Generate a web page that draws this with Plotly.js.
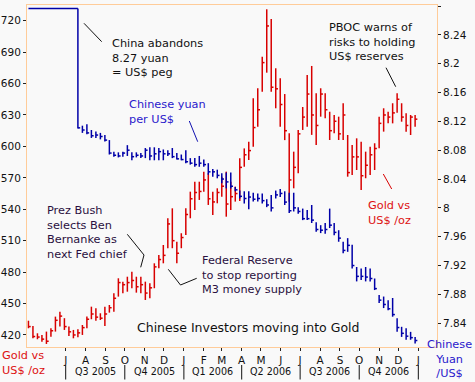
<!DOCTYPE html>
<html><head><meta charset="utf-8">
<script src="https://cdn.plot.ly/plotly-3.0.1.min.js"></script>
<style>html,body{margin:0;padding:0;background:#F9F9F9;}#chart{width:475px;height:382px;}</style>
</head><body><div id="chart"></div>
<script>
// ---- data (weekly bars) ----
const firstWeek = '2005-05-04';
const goldHigh = [433.6,428.6,421.6,420,423.2,426.4,437.5,442.2,436,428,424.8,425.4,429.5,437.5,447,445.5,440.7,447,448.6,459.8,
  474.1,470.9,475.6,480.4,475.6,475.6,470.9,469.3,488.4,496.4,505.9,531.4,540.9,509,517.1,540.9,556.8,566.3,566.3,575.9,
  574.3,556.8,560,571.1,575.9,566.3,561.6,588.6,598.1,604.5,645.9,655.5,685.7,730.9,721.6,674.6,665,650,612.5,595,
  615.7,637.6,668.2,676.8,650.7,655.5,650.7,633.1,630,628.4,641.2,610.9,601.3,607.7,604.5,595,599.7,603,628.4,636.4,
  633.1,641.2,650.7,641.2,631.6,630,630];
const goldLow = [426.4,416.8,415.9,413.6,411.4,418.4,423.2,428,424.8,419,416.8,417.8,420,426.4,435,433.6,434.3,428.6,441.3,442.2,
  456.6,459.8,461.3,464.6,460.4,459.8,453.4,455,464.6,483.7,488.4,502.8,502.8,488.4,502.8,515.4,531.4,539.3,548.9,556.8,
  544.1,534.6,545.7,552,532.9,539.3,547.3,548,580.6,587,599.7,618.8,652.2,670.4,652.2,636.4,618.8,606,547.2,560,
  574.3,615.7,618.8,611,601.3,628.4,626.8,606.1,612.5,606.1,606.1,571.1,572.7,577.5,558.4,569.6,572.7,577.5,598.2,614.1,
  622,622,632.2,623.6,614.1,610.9,618.8];
const goldClose = [428,418.5,418,416,414,424,434,438,428,423,420,422,427,435,440,437,436,440,446,455,
  470,468,470,472,466,468,460,465,485,492,496,526,510,498,513,535,550,556,557,568,
  550,547,556,562,545,552,555,580,592,596,618,635,680,715,656.5,655,640,615,568,580,
  612,628,650,630,620,650,635,615,624,612,630,575,590,590,572,582,592,598,622,630,
  628,632,645,628,620,628,626];

// yuan held at the 8.2765 peg for the first weeks, then weekly bars from week 11
const yuanPeg = [8.2765,8.2765,8.2765,8.2765,8.2765,8.2765,8.2765,8.2765,8.2765,8.2765,8.2765,8.2765];
const yuanFirstBarWeek = 11;
const yuanHigh = [8.2765,8.114,8.116,8.108,8.106,8.104,8.101,8.094,8.078,8.077,8.078,8.087,8.077,8.077,8.076,8.083,8.084,8.084,8.083,8.081,
  8.080,8.083,8.076,8.074,8.080,8.069,8.069,8.072,8.067,8.062,8.054,8.053,8.048,8.049,8.049,8.029,8.024,8.023,8.023,8.021,
  8.020,8.020,8.012,8.018,8.024,8.026,8.023,8.021,8.021,8.001,7.999,7.997,8.004,7.980,7.976,7.979,7.999,7.979,7.969,7.953,
  7.958,7.949,7.918,7.916,7.918,7.916,7.902,7.879,7.877,7.872,7.875,7.847,7.835,7.833,7.828,7.821];
const yuanLow = [8.110,8.104,8.102,8.097,8.097,8.095,8.092,8.074,8.071,8.070,8.071,8.072,8.066,8.070,8.069,8.069,8.066,8.066,8.066,8.066,
  8.072,8.069,8.067,8.066,8.062,8.060,8.057,8.057,8.057,8.046,8.043,8.041,8.034,8.027,8.027,8.023,8.013,8.006,7.998,8.009,
  8.009,8.006,8.001,7.995,8.013,8.015,8.004,7.993,7.995,7.992,7.983,7.983,7.979,7.967,7.965,7.964,7.972,7.962,7.953,7.937,
  7.939,7.916,7.898,7.900,7.898,7.898,7.886,7.868,7.861,7.858,7.849,7.828,7.821,7.817,7.817,7.812];
const yuanClose = [8.111,8.108,8.104,8.100,8.101,8.099,8.094,8.076,8.073,8.072,8.076,8.080,8.071,8.073,8.072,8.080,8.072,8.075,8.078,8.075,
  8.075,8.071,8.068,8.067,8.064,8.062,8.060,8.062,8.060,8.050,8.050,8.045,8.040,8.036,8.030,8.025,8.016,8.013,8.015,8.012,
  8.013,8.010,8.004,8.000,8.018,8.020,8.008,7.996,8.000,7.995,7.985,7.985,7.983,7.970,7.969,7.970,7.976,7.966,7.958,7.941,
  7.948,7.920,7.905,7.905,7.904,7.902,7.888,7.872,7.866,7.860,7.852,7.834,7.826,7.822,7.820,7.816];

const monthTickVals = ['2005-07-01','2005-08-01','2005-09-01','2005-10-01','2005-11-01','2005-12-01','2006-01-01','2006-02-01',
  '2006-03-01','2006-04-01','2006-05-01','2006-06-01','2006-07-01','2006-08-01','2006-09-01','2006-10-01','2006-11-01','2006-12-01','2007-01-01'];
const monthTickText = ['J','A','S','O','N','D','J','F','M','A','M','J','J','A','S','O','N','D','J'];
const quarterStarts = ['2005-07-01','2005-10-01','2006-01-01','2006-04-01','2006-07-01','2006-10-01','2007-01-01'];
const quarterLabels = ['Q3 2005','Q4 2005','Q1 2006','Q2 2006','Q3 2006','Q4 2006'];
const goldTicks = [420,450,480,510,540,570,600,630,660,690,720];
const yuanTicks = [7.84,7.88,7.92,7.96,8,8.04,8.08,8.12,8.16,8.2,8.24,8.28];
const yuanTickText = ['7.84','7.88','7.92','7.96','8','8.04','8.08','8.12','8.16','8.2','8.24','8.28'];

// ---- helpers ----
const DAY = 864e5;
const t0 = Date.parse(firstWeek + 'T00:00:00Z');
function fmt(ms){ return new Date(ms).toISOString().replace('T',' ').slice(0,19); }
function weekMs(i){ return t0 + i*7*DAY; }
function bars(offset, H, L, C){
  const xs=[], ys=[]; const tick = 3.5*DAY;
  for (let i=0;i<H.length;i++){
    const m = weekMs(i+offset);
    xs.push(fmt(m), fmt(m), null); ys.push(H[i], L[i], null);
    xs.push(fmt(m), fmt(m), null); ys.push(C[i], C[i], null);
    xs[xs.length-2] = fmt(m+tick);
  }
  return {xs, ys};
}
const RED = '#D80000', BLUE = '#0000A8';
const g = bars(0, goldHigh, goldLow, goldClose);
const y = bars(yuanFirstBarWeek, yuanHigh, yuanLow, yuanClose);
const pegX = yuanPeg.map((v,i)=>fmt(weekMs(i)));

const traces = [
  {x:g.xs, y:g.ys, type:'scatter', mode:'lines', line:{color:RED, width:1.5}, hoverinfo:'skip', yaxis:'y'},
  {x:pegX, y:yuanPeg, type:'scatter', mode:'lines', line:{color:BLUE, width:1.5}, hoverinfo:'skip', yaxis:'y2'},
  {x:y.xs, y:y.ys, type:'scatter', mode:'lines', line:{color:BLUE, width:1.5}, hoverinfo:'skip', yaxis:'y2'}
];

// pixel -> paper helpers (plot area 27..437 x 5..347)
const PX = x => (x-27)/410, PY = yy => (347-yy)/342;
function txt(lines, x, yy, color, size, anchor){
  return {text:lines.join('<br>'), xref:'paper', yref:'paper', x:PX(x), y:PY(yy), xanchor:anchor||'left', yanchor:'middle',
    align:anchor||'left', showarrow:false, borderpad:0, font:{family:'DejaVu Sans', size:size||11.3, color}};
}
const BLK='#111111', TBLUE='#2A18CC', TRED='#DD1111', PURP='#2A1040';
const annotations = [
  txt(['China abandons','8.27 yuan','= US$ peg'],111,58,BLK),
  txt(['Chinese yuan','per US$'],127.5,112.4,TBLUE),
  txt(['PBOC warns of','risks to holding','US$ reserves'],328,42.2,BLK),
  txt(['Gold vs','US$ /oz'],366.5,213.4,TRED),
  txt(['Prez Bush','selects Ben','Bernanke as','next Fed chief'],46,232.8,PURP),
  txt(['Federal Reserve','to stop reporting','M3 money supply'],201,274.5,PURP),
  txt(['Chinese Investors moving into Gold'],247.5,327,BLK,12.5,'center'),
  txt(['Gold vs','US$ /oz'],1,363,TRED),
  txt(['Chinese','Yuan','/US$'],449,358.6,TBLUE,11.3,'center')
];
// quarter labels
for (let q=0;q<quarterLabels.length;q++){
  const mid = (Date.parse(quarterStarts[q]+'T00:00:00Z') + Date.parse(quarterStarts[q+1]+'T00:00:00Z'))/2;
  annotations.push({text:quarterLabels[q], xref:'x', yref:'paper', x:fmt(mid), y:PY(371.7), xanchor:'center', yanchor:'middle',
    showarrow:false, borderpad:0, font:{family:'DejaVu Sans', size:9.6, color:BLK}});
}
const shapes = quarterStarts.map(d => ({type:'line', xref:'x', yref:'paper', x0:d, x1:d, y0:PY(365), y1:PY(379.5), line:{color:BLK, width:1}}));
function seg(x0,y0,x1,y1,color){ return {type:'line', xref:'paper', yref:'paper', x0:PX(x0), y0:PY(y0), x1:PX(x1), y1:PY(y1), line:{color, width:1}}; }
shapes.push(seg(84,23.3,101.7,41.7,BLK));
shapes.push(seg(189.3,121,197.7,141.7,'#1010B0'));
shapes.push(seg(386,67.7,395.7,86.7,BLK));
shapes.push(seg(383.3,174,391.7,189,RED));
shapes.push(seg(127.3,234.3,144,255,BLK), seg(144,255,140.7,267.3,BLK));
shapes.push(seg(168.3,269.3,180.5,285,BLK), seg(180.5,285,196.7,278.3,BLK));

const PEACH = '#FFCC99';
const layout = {
  width:475, height:382, margin:{l:27, r:38, t:5, b:35},
  paper_bgcolor:'#F9F9F9', plot_bgcolor:'#F9F9F9', showlegend:false,
  font:{family:'DejaVu Sans', size:10.5, color:BLK},
  xaxis:{type:'date', range:['2005-05-01 18:00:00','2007-01-30 02:00:00'], tickmode:'array', tickvals:monthTickVals, ticktext:monthTickText,
    ticks:'outside', ticklen:3, tickcolor:'#222', showline:true, linecolor:PEACH, mirror:true, showgrid:false, zeroline:false,
    tickfont:{size:10.5, color:BLK}, fixedrange:true},
  yaxis:{range:[408.5,735], tickmode:'array', tickvals:goldTicks, ticks:'outside', ticklen:3, tickcolor:'#222',
    showline:true, linecolor:PEACH, showgrid:false, zeroline:false, tickfont:{size:10.5, color:BLK}, fixedrange:true},
  yaxis2:{overlaying:'y', side:'right', range:[7.807,8.2814], tickmode:'array', tickvals:yuanTicks, ticktext:yuanTickText,
    ticks:'outside', ticklen:3, tickcolor:'#222', showline:true, linecolor:PEACH, showgrid:false, zeroline:false,
    tickfont:{size:10.5, color:BLK}, fixedrange:true},
  annotations, shapes
};
Plotly.newPlot('chart', traces, layout, {staticPlot:true, displayModeBar:false});
</script></body></html>
